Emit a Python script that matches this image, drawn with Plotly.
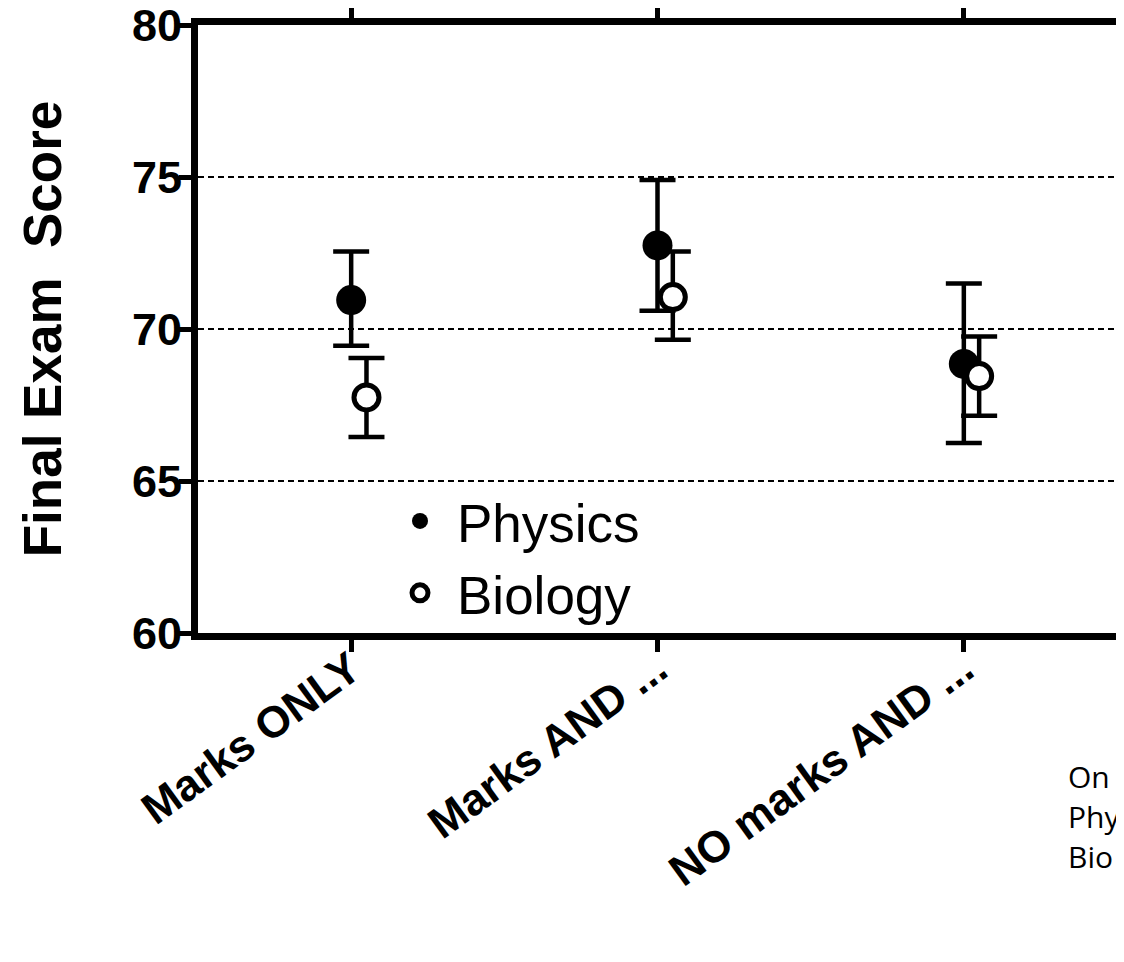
import plotly.graph_objects as go

categories = ["Marks ONLY", "Marks AND ...", "NO marks AND ..."]
physics_mean = [70.95, 72.75, 68.85]
physics_upper = [72.55, 74.9, 71.5]
physics_lower = [69.45, 70.6, 66.25]
biology_mean = [67.75, 71.05, 68.45]
biology_upper = [69.05, 72.55, 69.75]
biology_lower = [66.45, 69.65, 67.15]
biology_offset = 0.05
yticks = [60, 65, 70, 75, 80]
note_lines = ["On", "Phy", "Bio"]

xs = list(range(len(categories)))

# plot area geometry (figure px)
L, R, T, B = 190, 15, 17, 337
W, H = 1124, 962
PW, PH = W - L - R, H - T - B

BOLD = dict(family="Liberation Sans, Arial, sans-serif", color="black", weight="bold")

fig = go.Figure()
fig.add_trace(go.Scatter(
    x=xs, y=physics_mean, mode="markers", name="Physics",
    marker=dict(color="black", size=30, line=dict(color="black", width=0)),
    error_y=dict(type="data", symmetric=False,
                 array=[u - m for u, m in zip(physics_upper, physics_mean)],
                 arrayminus=[m - l for m, l in zip(physics_mean, physics_lower)],
                 color="black", thickness=4.5, width=18),
))
fig.add_trace(go.Scatter(
    x=[x + biology_offset for x in xs], y=biology_mean, mode="markers", name="Biology",
    marker=dict(color="white", size=25, line=dict(color="black", width=5)),
    error_y=dict(type="data", symmetric=False,
                 array=[u - m for u, m in zip(biology_upper, biology_mean)],
                 arrayminus=[m - l for m, l in zip(biology_mean, biology_lower)],
                 color="black", thickness=4.5, width=18),
))

for i, t in enumerate(note_lines):
    fig.add_annotation(xref="paper", yref="paper", x=(1058 - L) / PW, y=(PH + T - 768 - 40 * i) / PH,
                       text=t, showarrow=False, xanchor="left", yanchor="middle",
                       font=dict(family="Open Sans, Liberation Sans, sans-serif", size=30, color="black"))

fig.update_layout(
    width=W, height=H,
    margin=dict(l=L, r=R, t=T, b=B, autoexpand=False),
    plot_bgcolor="white", paper_bgcolor="white",
    showlegend=True,
    legend=dict(x=(375 - L) / PW, y=(PH + T - 472) / PH, xanchor="left", yanchor="top",
                font=dict(family="Liberation Sans, Arial, sans-serif", size=53, color="black"),
                bgcolor="rgba(0,0,0,0)", itemwidth=64, tracegroupgap=0),
    xaxis=dict(range=[-0.5, 2.5], tickvals=xs, ticktext=categories, tickangle=-36,
               showline=True, linewidth=7, linecolor="black", mirror="ticks",
               ticks="outside", ticklen=12, tickwidth=5, tickcolor="black",
               showgrid=False, zeroline=False, automargin=False, ticklabelstandoff=-26,
               tickfont=dict(size=44, **BOLD)),
    yaxis=dict(range=[60, 80], tickvals=yticks,
               showline=True, linewidth=7, linecolor="black", mirror="ticks",
               ticks="outside", ticklen=12, tickwidth=5, tickcolor="black",
               showgrid=True, gridcolor="black", gridwidth=2, griddash="6px,4px", zeroline=False,
               automargin=False, ticklabeloverflow="allow", ticklabelstandoff=-12,
               tickfont=dict(size=45, **BOLD),
               title=dict(text="Final Exam  Score", standoff=56, font=dict(size=53, **BOLD))),
)

fig.write_html("out.html")
